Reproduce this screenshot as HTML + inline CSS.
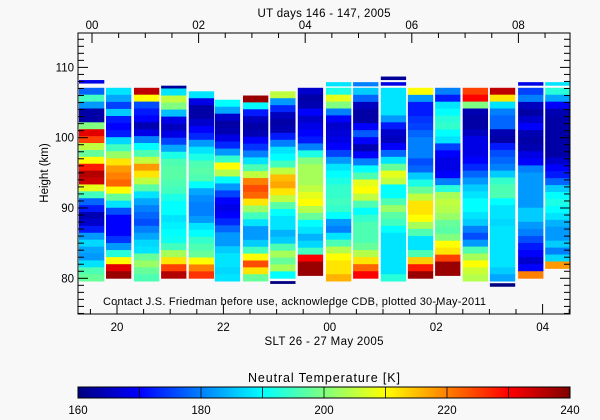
<!DOCTYPE html>
<html><head><meta charset="utf-8"><style>
html,body{margin:0;padding:0;background:#f8f8f8;}
svg{display:block;font-family:"Liberation Sans",sans-serif;}
</style></head><body>
<svg id="chart" width="600" height="420" viewBox="0 0 600 420" xmlns="http://www.w3.org/2000/svg">
<rect x="0" y="0" width="600" height="420" fill="#f8f8f8"/>
<g id="cells"></g>
<g id="axes"></g>
<rect x="78" y="33" width="492" height="281" fill="none" stroke="#000" stroke-width="1"/>
<text x="324" y="17" text-anchor="middle" font-size="11.5" textLength="133">UT days 146 - 147, 2005</text>
<text x="324" y="345" text-anchor="middle" font-size="11.5" textLength="119">SLT 26 - 27 May 2005</text>
<text x="48" y="173" text-anchor="middle" font-size="11.5" transform="rotate(-90 48 173)">Height (km)</text>
<text x="103" y="305" font-size="11" textLength="383">Contact J.S. Friedman before use, acknowledge CDB, plotted 30-May-2011</text>
<text x="324" y="382" text-anchor="middle" font-size="12.5" textLength="152">Neutral Temperature [K]</text>
<defs><linearGradient id="jetg" x1="0" x2="1" y1="0" y2="0">
<stop offset="0" stop-color="#000080"/><stop offset="0.125" stop-color="#0000ff"/><stop offset="0.375" stop-color="#00ffff"/><stop offset="0.625" stop-color="#ffff00"/><stop offset="0.875" stop-color="#ff0000"/><stop offset="1" stop-color="#800000"/></linearGradient></defs>
<rect x="78" y="387" width="492" height="11" fill="url(#jetg)" stroke="#000" stroke-width="1"/>
<g id="cbticks"></g>
</svg>
<script>
// ---- data ----
const colStart = [19.267,19.774,20.30,20.81,21.33,21.82,22.35,22.86,23.38,23.91,24.42,24.94,25.45,25.96,26.48,26.99,27.52,28.03];
const colWidth = 0.50;
const colTop = [107.1,107.1,107.1,107.0,106.6,105.4,106.0,106.6,107.1,107.1,107.1,107.1,107.1,107.1,107.1,107.1,107.1,107.1];
const colBottom = [79.6,80.0,79.6,80.0,80.0,79.6,79.6,80.0,80.4,79.6,80.0,79.6,80.0,80.4,79.6,79.6,80.0,81.4];
const c1 = [178,195,182,163,163,200,232,225,205,198,210,228,236,234,208,195,178,172,164,166,172,182,187,183,182,188,196,198];
const c2 = [188,183,175,186,172,170,172,187,195,202,212,218,220,222,210,198,188,176,170,170,170,174,182,193,210,232,238];
const c3 = [235,210,176,172,170,164,168,180,190,196,205,218,212,205,197,188,183,180,178,176,180,183,187,188,198,202,198,196];
const c4 = [188,205,200,185,168,165,168,175,183,192,196,197,197,196,195,192,190,190,188,189,190,191,195,203,212,225,236];
const c5 = [188,168,163,163,166,170,173,182,188,192,196,197,196,190,183,181,180,180,182,188,190,194,196,198,210,220,226];
const c6 = [190,183,166,163,164,168,173,182,194,210,204,190,182,175,170,168,170,173,178,182,182,186,188,188,187,188];
const c7 = [238,190,172,165,163,164,170,174,180,188,196,205,220,224,222,212,202,195,188,182,182,186,195,210,224,212,198];
const c8 = [205,182,173,165,163,164,172,180,188,190,195,205,215,217,212,205,197,190,188,188,184,186,196,203,198,203,190];
const c9 = [166,163,164,170,166,168,170,172,180,192,200,203,203,203,205,208,210,204,198,190,188,184,187,195,230,238,238];
const c10 = [192,208,200,180,170,166,167,168,170,175,182,188,190,192,194,194,195,194,190,182,180,188,196,204,210,212,212,216];
const c11 = [186,178,165,163,163,170,177,170,164,170,180,190,196,208,210,205,196,190,194,196,196,196,198,204,212,222,230];
const c12 = [188,188,188,188,182,172,166,165,170,178,188,198,208,205,190,190,196,202,197,195,190,188,188,188,188,188,188,193];
const c13 = [210,182,172,172,174,175,178,180,180,180,176,178,186,192,198,205,212,212,210,203,196,188,188,196,214,228,238];
const c14 = [180,172,188,190,193,194,190,188,175,170,168,168,170,180,193,203,205,204,202,198,197,200,210,212,225,238,238];
const c15 = [225,230,200,164,163,163,165,168,168,168,170,173,178,182,186,188,190,190,188,186,180,176,182,196,203,210,206,204];
const c16 = [235,212,188,180,178,178,164,163,172,176,178,180,186,194,196,196,190,188,188,187,188,188,188,188,188,188,186,183];
const c17 = [175,180,165,163,166,170,164,163,164,168,170,180,182,182,182,182,182,186,186,182,180,176,172,170,166,170,220];
const c18 = [193,183,170,164,163,163,163,163,163,163,166,170,172,178,186,190,192,190,188,184,182,182,186,180,187,218];
const colValues = [c1,c2,c3,c4,c5,c6,c7,c8,c9,c10,c11,c12,c13,c14,c15,c16,c17,c18];
const capCol = [0,3,7,9,10,11,11,15,16,17];
const capTop = [108.2,107.4,79.6,107.9,107.9,108.7,107.9,79.3,107.9,107.9];
const capBot = [107.7,107.0,79.2,107.3,107.3,108.2,107.4,78.8,107.4,107.4];
const capVal = [168,162,160,188,180,162,168,160,168,188];
const yTicks = [80,90,100,110];
const sltTicks = [20,22,24,26,28];
const utTicks = [0,2,4,6,8];
const cbTicks = [160,180,200,220,240];

// ---- scales ----
const NS="http://www.w3.org/2000/svg";
function xS(h){return 117+(h-20)*53.2;}
function xU(h){return 92+h*53.3;}
function yS(k){return 278.3-(k-80)*7.03;}
function cbX(t){return 78+(t-160)*492/80;}
function cl(v){return Math.max(0,Math.min(1,v));}
function jet(T){const t=cl((T-160)/80);
 const r=cl(Math.min(4*t-1.5,-4*t+4.5)),g=cl(Math.min(4*t-0.5,-4*t+3.5)),b=cl(Math.min(4*t+0.5,-4*t+2.5));
 return `rgb(${Math.round(r*255)},${Math.round(g*255)},${Math.round(b*255)})`;}
function mk(tag,attrs,parent){const e=document.createElementNS(NS,tag);for(const k in attrs)e.setAttribute(k,attrs[k]);parent.appendChild(e);return e;}

const cells=document.getElementById('cells');
colStart.forEach((s,i)=>{
 const x0=Math.max(78,xS(s)+1), x1=Math.min(570,xS(s+colWidth+0.014)-1);
 const vals=colValues[i], n=vals.length, bh=(colTop[i]-colBottom[i])/n;
 vals.forEach((v,j)=>{
  const hTop=colTop[i]-j*bh, hBot=hTop-bh;
  const r=mk('rect',{x:x0.toFixed(1),y:yS(hTop).toFixed(2),width:(x1-x0).toFixed(1),height:(yS(hBot)-yS(hTop)+0.4).toFixed(2),fill:jet(v)},cells);
  
  
 });
});
capCol.forEach((c,k)=>{
 const s=colStart[c];
 const x0=Math.max(78,xS(s)+1), x1=Math.min(570,xS(s+colWidth+0.014)-1);
 const r=mk('rect',{x:x0.toFixed(1),y:yS(capTop[k]).toFixed(2),width:(x1-x0).toFixed(1),height:(yS(capBot[k])-yS(capTop[k])).toFixed(2),fill:jet(capVal[k])},cells);
 
 
});

const ax=document.getElementById('axes');
// y ticks
for(let k=75;k<=114;k++){
 const y=yS(k), maj=(k%10===0), L=maj?10:6;
 mk('line',{x1:78,x2:78+L,y1:y,y2:y,stroke:'#000','stroke-width':1},ax);
 mk('line',{x1:570,x2:570-L,y1:y,y2:y,stroke:'#000','stroke-width':1},ax);
}
yTicks.forEach(k=>{
 const t=mk('text',{x:74,y:yS(k)+4,'text-anchor':'end','font-size':11.5},ax);
 t.textContent=String(k);
 
 
});
// bottom ticks (SLT)
for(let h=19.5;h<=28.5;h+=0.5){
 const x=xS(h); if(x<78||x>570)continue;
 const L=(h%2===0)?10:5;
 mk('line',{x1:x,x2:x,y1:314,y2:314-L,stroke:'#000','stroke-width':1},ax);
}
sltTicks.forEach(h=>{
 const t=mk('text',{x:xS(h),y:331,'text-anchor':'middle','font-size':11.5},ax);
 t.textContent=String(h%24).padStart(2,'0');
 
 
});
// top ticks (UT)
for(let h=-0.5;h<=9;h+=0.5){
 const x=xU(h); if(x<78||x>570)continue;
 const L=(h%2===0)?10:5;
 mk('line',{x1:x,x2:x,y1:33,y2:33+L,stroke:'#000','stroke-width':1},ax);
}
utTicks.forEach(h=>{
 const t=mk('text',{x:xU(h),y:29,'text-anchor':'middle','font-size':11.5},ax);
 t.textContent=String(h).padStart(2,'0');
 
 
});
// colorbar ticks
const cb=document.getElementById('cbticks');
for(let v=170;v<240;v+=10){
 mk('line',{x1:cbX(v),x2:cbX(v),y1:387,y2:398,stroke:'#000','stroke-width':0.8},cb);
}
cbTicks.forEach(v=>{
 const t=mk('text',{x:cbX(v),y:414,'text-anchor':'middle','font-size':11.5},cb);
 t.textContent=String(v);
 
 
});
</script>
</body></html>
